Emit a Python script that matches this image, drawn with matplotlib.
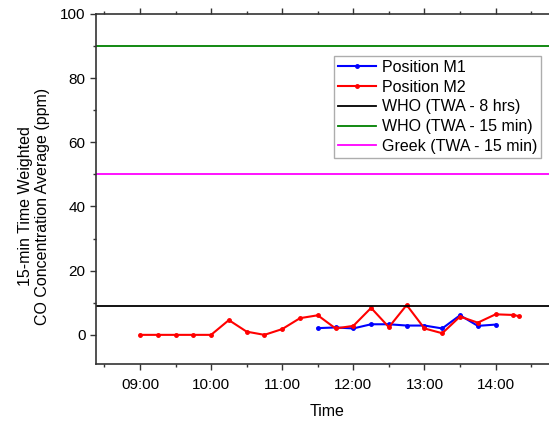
import matplotlib.pyplot as plt
from matplotlib.ticker import MultipleLocator, FuncFormatter

plt.rcParams['font.family'] = ['Liberation Sans', 'DejaVu Sans']

# 15-min TWA readings, time of day
m1_times = ['11:30', '11:45', '12:00', '12:15', '12:30', '12:45', '13:00',
            '13:15', '13:30', '13:45', '14:00']
m1_co = [2.1, 2.3, 2.0, 3.3, 3.3, 2.9, 2.9, 2.0, 6.1, 2.8, 3.2]

m2_times = ['09:00', '09:15', '09:30', '09:45', '10:00', '10:15', '10:30',
            '10:45', '11:00', '11:15', '11:30', '11:45', '12:00', '12:15',
            '12:30', '12:45', '13:00', '13:15', '13:30', '13:45', '14:00',
            '14:15', '14:20']
m2_co = [0, 0, 0, 0, 0, 4.6, 1.0, 0, 1.8, 5.2, 6.1, 2.0, 2.8, 8.4,
         2.4, 9.3, 2.0, 0.5, 5.7, 3.8, 6.4, 6.2, 5.8]

limits = {'WHO (TWA - 8 hrs)': (9, 'black'),
          'WHO (TWA - 15 min)': (90, 'green'),
          'Greek (TWA - 15 min)': (50, 'magenta')}


def to_hours(labels):
    return [int(t[:2]) + int(t[3:]) / 60 for t in labels]


fig = plt.figure(figsize=(5.49, 4.21), dpi=100)
ax = fig.add_axes([0.175, 0.136, 0.84, 0.831])

ax.plot(to_hours(m1_times), m1_co, color='blue', marker='o', ms=2.5,
        lw=1.5, label='Position M1')
ax.plot(to_hours(m2_times), m2_co, color='red', marker='o', ms=2.5,
        lw=1.5, label='Position M2')
for name, (val, col) in limits.items():
    ax.axhline(val, color=col, lw=1.3, label=name)

ax.set_xlim(8 + 23 / 60, 14 + 52 / 60)
ax.set_ylim(-9, 100)
ax.xaxis.set_major_locator(MultipleLocator(1))
ax.xaxis.set_minor_locator(MultipleLocator(0.5))
ax.xaxis.set_major_formatter(FuncFormatter(lambda v, p: '%02d:00' % round(v)))
ax.yaxis.set_major_locator(MultipleLocator(20))
ax.yaxis.set_minor_locator(MultipleLocator(10))

ax.tick_params(which='both', direction='out', labelsize=11, top=True,
               width=1, colors='#333333', labelcolor='black')
ax.tick_params(which='major', length=4)
ax.tick_params(axis='x', which='major', pad=6)
ax.tick_params(which='minor', length=2.5)
ax.spines['right'].set_visible(False)
for s in ['left', 'bottom', 'top']:
    ax.spines[s].set_linewidth(1.2)
    ax.spines[s].set_color('#333333')

ax.set_xlabel('Time', fontsize=11.5, labelpad=9)
ax.set_ylabel('15-min Time Weighted\nCO Concentration Average (ppm)',
              fontsize=11.5)
ax.yaxis.set_label_coords(-0.10, 0.45)

leg = ax.legend(loc='upper right', bbox_to_anchor=(0.965, 0.88),
                fontsize=11.5, frameon=True, fancybox=False, borderpad=0.25,
                labelspacing=0.3, handlelength=2.4, handletextpad=0.35,
                borderaxespad=0)
leg.get_frame().set_edgecolor('#999999')
leg.get_frame().set_linewidth(1)

fig.savefig('out.png', dpi=100)
